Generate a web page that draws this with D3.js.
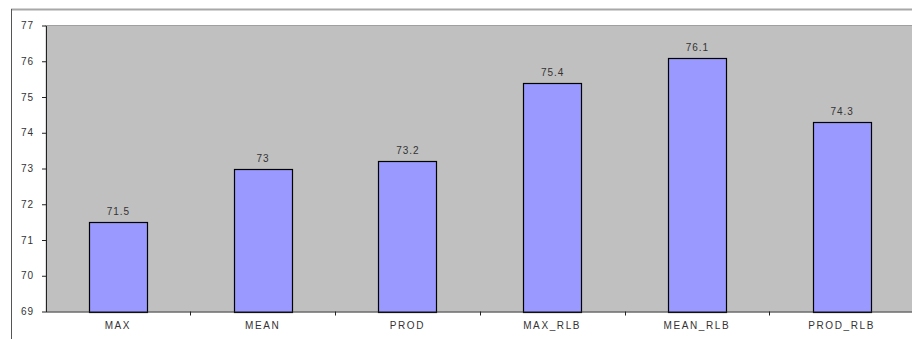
<!DOCTYPE html>
<html>
<head>
<meta charset="utf-8">
<script src="https://cdn.jsdelivr.net/npm/d3@7"></script>
<style>
  body { margin: 0; background: #fff; }
  svg text { font-family: "Liberation Sans", Arial, sans-serif; }
</style>
</head>
<body>
<svg id="chart"></svg>
<script>
var categories = ["MAX", "MEAN", "PROD", "MAX_RLB", "MEAN_RLB", "PROD_RLB"];
var values = [71.5, 73, 73.2, 75.4, 76.1, 74.3];
var yTicks = [69, 70, 71, 72, 73, 74, 75, 76, 77];

var width = 912;
var height = 339;
var plotLeft = 45.5;
var plotRight = 914;
var plotTop = 25.5;
var plotBottom = 311.5;

var svg = d3.select("#chart").attr("width", width).attr("height", height);

// outer chart frame
svg.append("line")
  .attr("x1", 11).attr("x2", width).attr("y1", 9.5).attr("y2", 9.5)
  .attr("stroke", "#a8a8a8").attr("stroke-width", 2);
svg.append("line")
  .attr("x1", 11.5).attr("x2", 11.5).attr("y1", 9).attr("y2", height)
  .attr("stroke", "#555").attr("stroke-width", 1);

var xScale = d3.scaleBand().domain(categories).range([plotLeft, plotRight]).paddingInner(0.6).paddingOuter(0.3);
var yScale = d3.scaleLinear().domain([69, 77]).range([plotBottom, plotTop]);

// plot background
svg.append("rect")
  .attr("x", plotLeft).attr("y", plotTop)
  .attr("width", plotRight - plotLeft).attr("height", plotBottom - plotTop)
  .attr("fill", "#c0c0c0");
svg.append("line")
  .attr("x1", plotLeft).attr("x2", plotRight).attr("y1", plotTop).attr("y2", plotTop)
  .attr("stroke", "#a0a0a0");

// bars
svg.append("g")
  .selectAll("rect")
  .data(values)
  .enter()
  .append("rect")
  .attr("x", function (d, i) { return Math.round(xScale(categories[i])) + 0.5; })
  .attr("y", function (d) { return Math.round(yScale(d)) + 0.5; })
  .attr("width", Math.round(xScale.bandwidth()))
  .attr("height", function (d) { return Math.round(plotBottom) - Math.round(yScale(d)); })
  .attr("fill", "#9999ff")
  .attr("stroke", "#000")
  .attr("stroke-width", 1.2);

// value labels
svg.append("g")
  .selectAll("text")
  .data(values)
  .enter()
  .append("text")
  .attr("x", function (d, i) { return xScale(categories[i]) + xScale.bandwidth() / 2 + 0.5; })
  .attr("y", function (d) { return yScale(d) - 7; })
  .attr("text-anchor", "middle")
  .attr("font-size", "10px")
  .attr("letter-spacing", "1px")
  .attr("fill", "#333")
  .text(function (d) { return d; });

// y axis
var yAxis = d3.axisLeft(yScale).tickValues(yTicks).tickSize(4).tickSizeOuter(0).tickPadding(8);
var gy = svg.append("g")
  .attr("transform", "translate(" + (plotLeft + 0.5) + ",0)")
  .call(yAxis);
gy.select(".domain").attr("stroke", "#222");
gy.selectAll("line").attr("stroke", "#222");
gy.selectAll("text")
  .attr("font-size", "10px")
  .attr("letter-spacing", "1px")
  .attr("fill", "#333")
  .style("font-family", "Liberation Sans, Arial, sans-serif");

// x axis
var xAxis = d3.axisBottom(xScale).tickSize(0).tickPadding(10);
var gx = svg.append("g")
  .attr("transform", "translate(0," + plotBottom + ")")
  .call(xAxis);
gx.select(".domain").attr("stroke", "#222");
gx.selectAll("text")
  .attr("font-size", "10px")
  .attr("letter-spacing", "1.6px")
  .attr("fill", "#333")
  .style("font-family", "Liberation Sans, Arial, sans-serif");

// category separator ticks
var step = xScale.step();
svg.append("g")
  .selectAll("line")
  .data(categories.slice(1))
  .enter()
  .append("line")
  .attr("x1", function (d) { return Math.round(xScale(d) - xScale.paddingInner() * step / 2) + 0.5; })
  .attr("x2", function (d) { return Math.round(xScale(d) - xScale.paddingInner() * step / 2) + 0.5; })
  .attr("y1", plotBottom)
  .attr("y2", plotBottom + 4)
  .attr("stroke", "#222");
</script>
</body>
</html>
